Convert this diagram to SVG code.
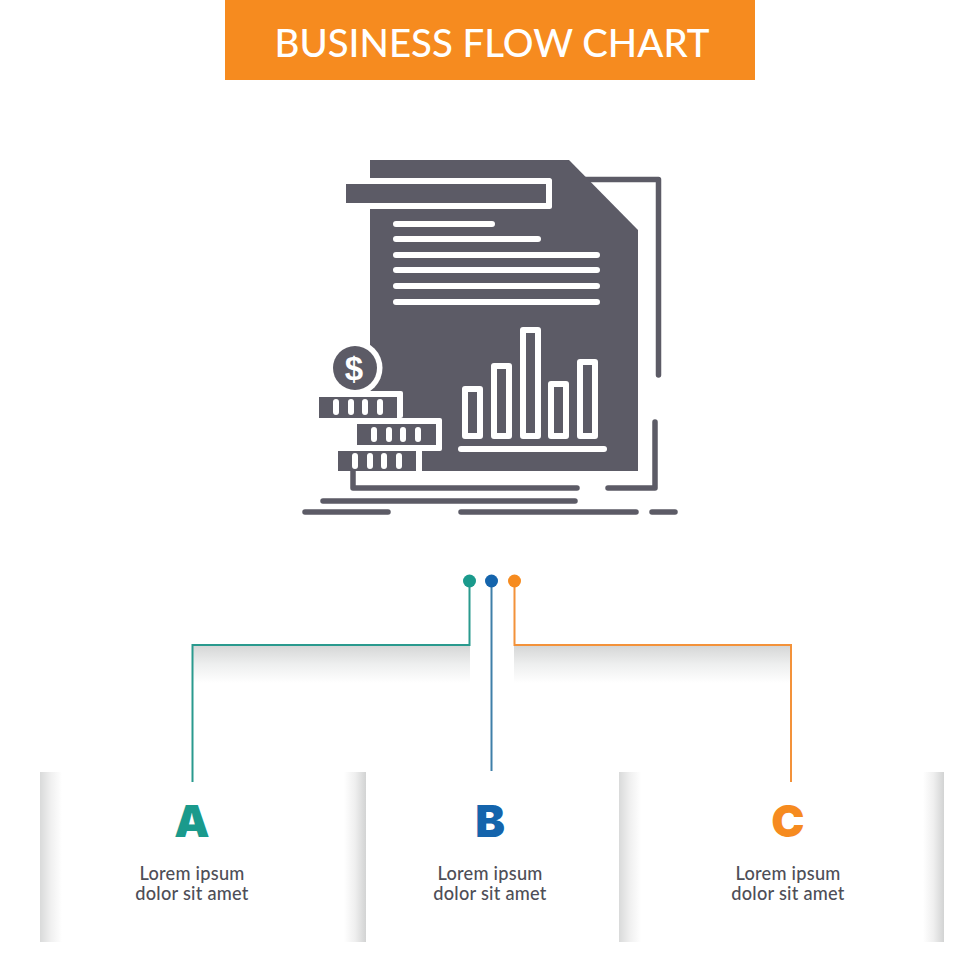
<svg xmlns="http://www.w3.org/2000/svg" width="980" height="980" viewBox="0 0 980 980">
<style>
.d{fill:#5c5b66}
.w{fill:#fff}
.dl{fill:none;stroke:#5c5b66;stroke-width:5.5;stroke-linecap:round;stroke-linejoin:round}
.wl{fill:none;stroke:#fff;stroke-width:6;stroke-linecap:round;stroke-linejoin:round}
.bar{fill:none;stroke:#fff;stroke-width:6;stroke-linejoin:round}
.c{fill:none;stroke-width:2}
.body{font-family:"Lato","Liberation Sans",sans-serif;font-size:18.2px;letter-spacing:.25px;fill:#4e4e57;text-anchor:middle;font-weight:500}
.big{font-family:"Inter","Liberation Sans",sans-serif;font-size:44.5px;font-weight:900;text-anchor:middle}
</style>
<defs>
<linearGradient id="gv" x1="0" y1="0" x2="0" y2="1"><stop offset="0" stop-color="#d6d7d7"/><stop offset=".5" stop-color="#eeefef"/><stop offset="1" stop-color="#fff"/></linearGradient>
<linearGradient id="gl" x1="0" y1="0" x2="1" y2="0"><stop offset="0" stop-color="#d9dada"/><stop offset=".5" stop-color="#f0f0f0"/><stop offset="1" stop-color="#fff"/></linearGradient>
<linearGradient id="gr" x1="1" y1="0" x2="0" y2="0"><stop offset="0" stop-color="#d2d3d3"/><stop offset=".5" stop-color="#efefef"/><stop offset="1" stop-color="#fff"/></linearGradient>
</defs>
<rect width="980" height="980" fill="#fff"/>
<g id="title">
<rect x="225" y="0" width="530" height="80" fill="#f68b1f"/>
<text x="492" y="57" font-family="Lato,'Liberation Sans',sans-serif" font-size="38" font-weight="500" fill="#fff" text-anchor="middle" textLength="435" lengthAdjust="spacingAndGlyphs">BUSINESS FLOW CHART</text>
</g>
<g id="icon">
<path class="dl" d="M585 179.500H658.500V375"/>
<path class="dl" d="M655 422V488H608"/>
<path class="dl" d="M353 470V488H577"/>
<path class="dl" d="M323 501H575M305 512H388M461 512H636M652 512H675"/>
<path class="d" d="M370 160H569L638 230V471H370Z"/>
<rect x="340" y="178" width="212" height="31" rx="2.500" class="w"/>
<path class="w" d="M340 340H370V471H340Z"/>
<circle cx="355" cy="368" r="27.500" class="w"/>
<rect x="310" y="391" width="93" height="27" rx="2" class="w"/>
<rect x="345" y="418" width="97" height="33" rx="2" class="w"/>
<rect x="330" y="451" width="92" height="20" class="w"/>
<rect x="346" y="184" width="200" height="19" class="d"/>
<path class="wl" d="M396 224H492M396 239H538M396 255H597M396 270H597M396 286H597M396 302H597"/>
<rect x="465" y="389" width="15" height="47" class="bar"/>
<rect x="494" y="366" width="15" height="70" class="bar"/>
<rect x="523" y="330" width="15" height="106" class="bar"/>
<rect x="551" y="384" width="15" height="52" class="bar"/>
<rect x="580" y="362" width="15" height="74" class="bar"/>
<path class="wl" d="M461 449H604"/>
<circle cx="355" cy="368" r="22" class="d"/>
<text x="354" y="380" font-family="'Liberation Sans',sans-serif" font-size="33" font-weight="700" fill="#fff" text-anchor="middle">$</text>
<rect x="319" y="397" width="78" height="21" class="d"/>
<rect x="357" y="424" width="79" height="21" class="d"/>
<rect x="338" y="451" width="78" height="20" class="d"/>
<path class="wl" d="M336 402V412M351 402V412M365 402V412M380 402V412M374 430V439M389 430V439M403 430V439M418 430V439M355 456V466M370 456V466M384 456V466M399 456V466"/>
</g>
<g id="shadows">
<rect x="193" y="646" width="277" height="37" fill="url(#gv)"/>
<rect x="514" y="646" width="277" height="37" fill="url(#gv)"/>
</g>
<g id="connectors">
<path class="c" stroke="#2a9a8e" d="M469.500 581V645H192.500V782"/>
<path class="c" stroke="#3f7fa8" d="M491.500 581V771"/>
<path class="c" stroke="#f3923a" d="M514.500 581V645H791V782"/>
</g>
<g id="dots">
<circle cx="469.500" cy="581" r="6.500" fill="#1a9a8c"/>
<circle cx="491.500" cy="581" r="6.500" fill="#1464ac"/>
<circle cx="514.500" cy="581" r="6.500" fill="#f68b1f"/>
</g>
<g id="card-a">
<rect x="40" y="772" width="22" height="170" fill="url(#gl)"/>
<rect x="344" y="772" width="22" height="170" fill="url(#gr)"/>
<text x="192" y="837" class="big" fill="#1a9a8c">A</text>
<text x="192" y="880" class="body">Lorem ipsum</text>
<text x="192" y="900" class="body">dolor sit amet</text>
</g>
<g id="card-b">
<text x="490" y="837" class="big" fill="#1464ac">B</text>
<text x="490" y="880" class="body">Lorem ipsum</text>
<text x="490" y="900" class="body">dolor sit amet</text>
</g>
<g id="card-c">
<rect x="619" y="772" width="22" height="170" fill="url(#gl)"/>
<rect x="923" y="772" width="21" height="170" fill="url(#gr)"/>
<text x="788" y="837" class="big" fill="#f68b1f">C</text>
<text x="788" y="880" class="body">Lorem ipsum</text>
<text x="788" y="900" class="body">dolor sit amet</text>
</g>
</svg>
